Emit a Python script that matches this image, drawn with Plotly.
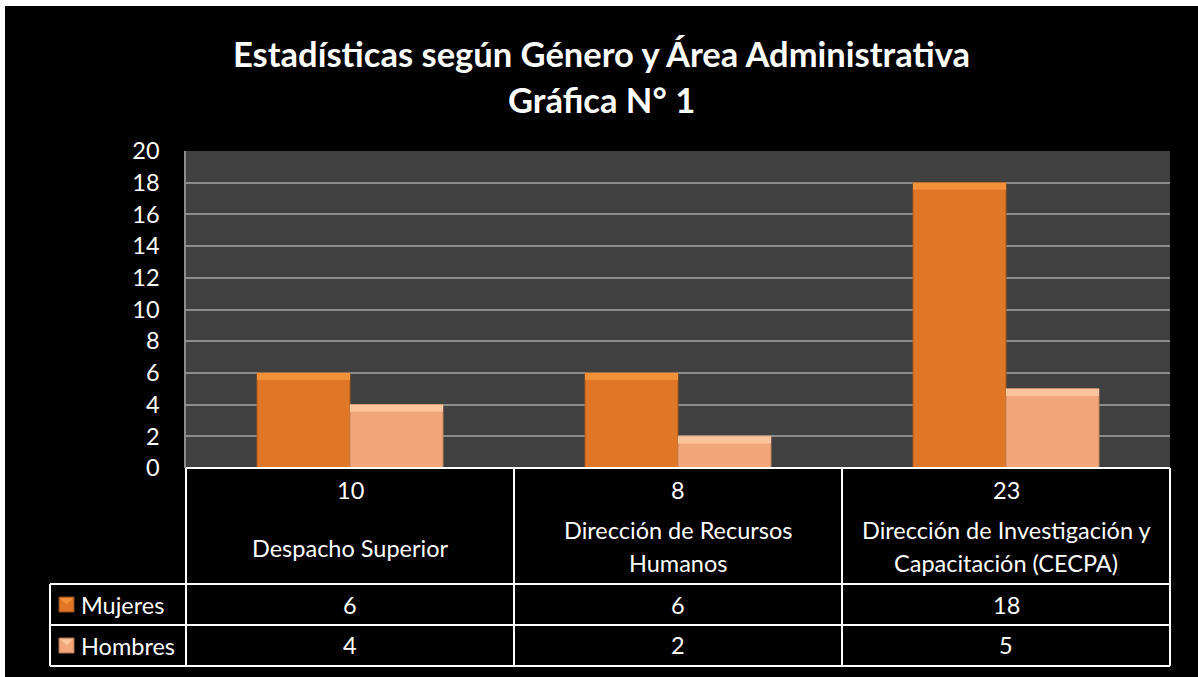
import plotly.graph_objects as go

# ---- data ----
categories = ["Despacho Superior", "Dirección de Recursos<br>Humanos",
              "Dirección de Investigación y<br>Capacitación (CECPA)"]
totals = [10, 8, 23]
mujeres = [6, 6, 18]
hombres = [4, 2, 5]
series_names = ["Mujeres", "Hombres"]
title_lines = ["Estadísticas según Género y Área Administrativa", "Gráfica N° 1"]

W, H = 1198, 677
FONT = "Lato"
def px(x): return x / W
def py(y): return 1 - y / H

# layout geometry (pixels)
PL, PR, PT, PB = 186, 1170, 151, 468
LEG_L = 50
ROW_HDR_B, ROW1_B, ROW2_B = 584, 625, 666
col_edges = [186, 514, 842, 1170]

C_M = "#DF7726"
C_H = "#F2A67A"
C_M_TOP = "#F4923A"
C_H_TOP = "#FCC49C"
BEVEL = 0.45

fig = go.Figure()
fig.add_trace(go.Bar(x=[0, 1, 2], y=mujeres, name=series_names[0], offsetgroup="m",
                     marker=dict(color=C_M, line=dict(color="#A9581C", width=1))))
fig.add_trace(go.Bar(x=[0, 1, 2], y=hombres, name=series_names[1], offsetgroup="h",
                     marker=dict(color=C_H, line=dict(color="#C98460", width=1))))
fig.add_trace(go.Bar(x=[0, 1, 2], y=[BEVEL] * 3, base=[v - BEVEL for v in mujeres],
                     offsetgroup="m", hoverinfo="skip",
                     marker=dict(color=C_M_TOP, line=dict(width=0))))
fig.add_trace(go.Bar(x=[0, 1, 2], y=[BEVEL] * 3, base=[v - BEVEL for v in hombres],
                     offsetgroup="h", hoverinfo="skip",
                     marker=dict(color=C_H_TOP, line=dict(width=0))))

shapes = []
ann = []

# white strips at top/left of the picture
shapes.append(dict(type="rect", xref="paper", yref="paper", x0=0, x1=1, y0=py(6), y1=1,
                   fillcolor="white", line=dict(width=0), layer="above"))
shapes.append(dict(type="rect", xref="paper", yref="paper", x0=0, x1=px(5), y0=0, y1=1,
                   fillcolor="white", line=dict(width=0), layer="above"))

LINE = dict(color="white", width=2)
def hline(x0, x1, y):
    shapes.append(dict(type="line", xref="paper", yref="paper", x0=px(x0), x1=px(x1),
                       y0=py(y), y1=py(y), line=LINE))
def vline(x, y0, y1):
    shapes.append(dict(type="line", xref="paper", yref="paper", x0=px(x), x1=px(x),
                       y0=py(y0), y1=py(y1), line=LINE))

hline(PL, PR, PB)
hline(LEG_L, PR, ROW_HDR_B)
hline(LEG_L, PR, ROW1_B)
hline(LEG_L, PR, ROW2_B)
for cx in col_edges:
    vline(cx, PB, ROW2_B)
vline(LEG_L, ROW_HDR_B, ROW2_B)

TXT = dict(color="white", size=23.5, family=FONT)
for i in range(3):
    cx = (col_edges[i] + col_edges[i + 1]) / 2
    ann.append(dict(x=px(cx), y=py(490), text=str(totals[i])))
    lines = categories[i].split("<br>")
    if len(lines) == 1:
        ann.append(dict(x=px(cx), y=py(548), text=lines[0]))
    else:
        ann.append(dict(x=px(cx), y=py(530), text=lines[0]))
        ann.append(dict(x=px(cx), y=py(563), text=lines[1]))
    ann.append(dict(x=px(cx), y=py(605), text=str(mujeres[i])))
    ann.append(dict(x=px(cx), y=py(645), text=str(hombres[i])))
for a in ann:
    a.update(xref="paper", yref="paper", showarrow=False, font=TXT,
             xanchor="center", yanchor="middle")

# legend keys in table
for name, col, top, yc in [(series_names[0], C_M, C_M_TOP, 604.5),
                           (series_names[1], C_H, C_H_TOP, 645.5)]:
    shapes.append(dict(type="rect", xref="paper", yref="paper", x0=px(59), x1=px(74),
                       y0=py(yc + 7.5), y1=py(yc - 7.5), fillcolor=col,
                       line=dict(color="#8a4a1a" if col == C_M else "#b07050", width=1)))
    shapes.append(dict(type="path", xref="paper", yref="paper",
                       path="M %f,%f L %f,%f L %f,%f Z" % (px(60), py(yc - 6.5), px(73), py(yc - 6.5),
                                                          px(66.5), py(yc)),
                       fillcolor=top, line=dict(width=0)))
    ann.append(dict(xref="paper", yref="paper", x=px(79), y=py(yc), text=name,
                    showarrow=False, font=TXT, xanchor="left", yanchor="middle"))

# title
for t, yy in zip(title_lines, [53, 99]):
    ann.append(dict(xref="paper", yref="paper", x=px(601), y=py(yy), text="<b>%s</b>" % t,
                    showarrow=False, font=dict(color="white", size=34.5, family=FONT),
                    xanchor="center", yanchor="middle"))

fig.update_layout(
    width=W, height=H, margin=dict(l=0, r=0, t=0, b=0, autoexpand=False),
    paper_bgcolor="black", plot_bgcolor="#404040",
    barmode="group", bargap=0.433, bargroupgap=0,
    showlegend=False, shapes=shapes, annotations=ann,
    font=dict(family=FONT, color="white"),
    xaxis=dict(domain=[px(PL), px(PR)], range=[-0.5, 2.5], showticklabels=False,
               showgrid=False, zeroline=False, fixedrange=True, automargin=False),
    yaxis=dict(domain=[py(PB), py(PT)], range=[0, 20], dtick=2, showgrid=True,
               gridcolor="#8C8C8C", gridwidth=1.5, zeroline=False,
               showline=True, linecolor="#8C8C8C", linewidth=1.5,
               tickfont=dict(color="white", size=23.5, family=FONT),
               ticks="", ticklabelstandoff=20, fixedrange=True, automargin=False),
)

fig.write_html("out.html", config={"displayModeBar": False},
               post_script="document.body.style.margin='0px';")
